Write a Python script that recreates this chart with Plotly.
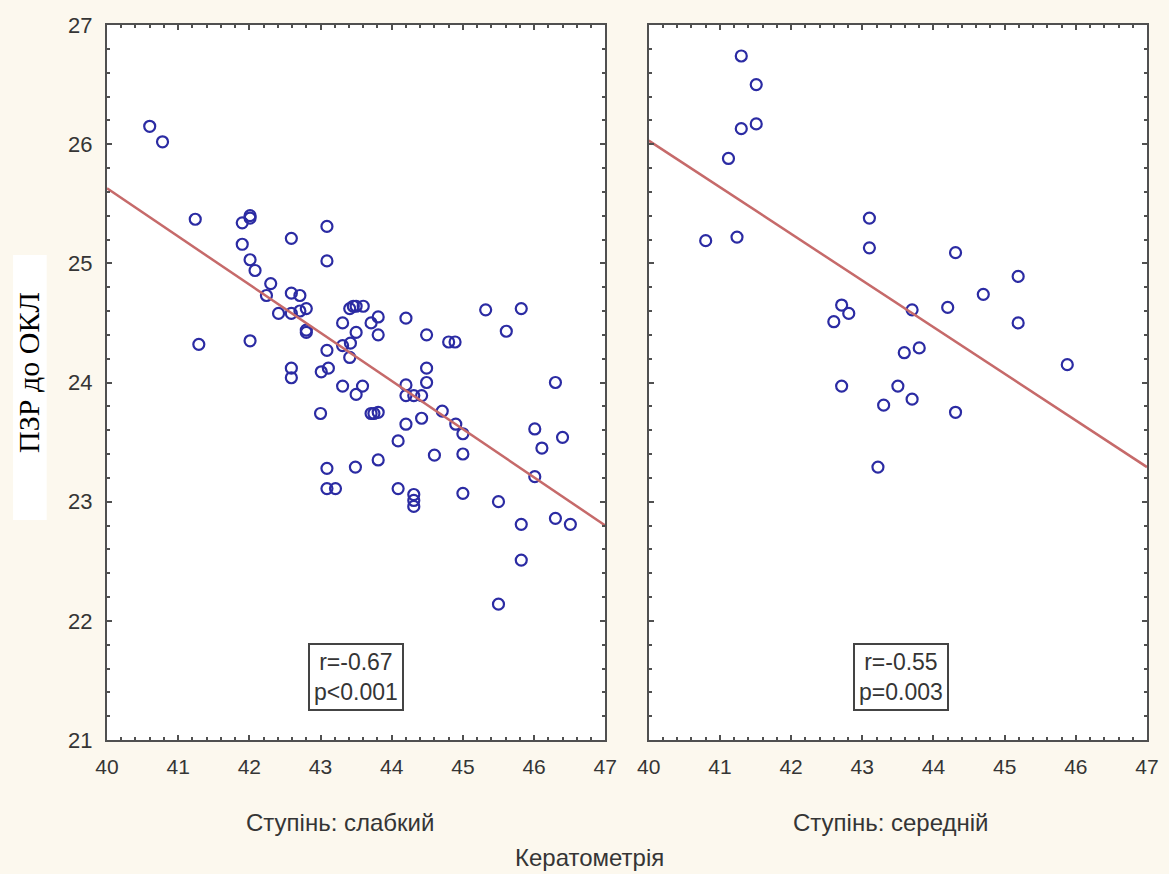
import plotly.graph_objects as go

# ---- data ----
left_x = [40.60, 40.78, 41.24, 41.29, 41.90, 42.01, 42.01, 41.90, 42.01, 42.08,
          42.30, 42.24, 42.01, 42.59, 42.59, 42.71, 42.41, 42.59, 42.71, 42.80,
          42.80, 42.80, 42.59, 42.59, 43.09, 43.09, 43.09, 43.01, 43.11, 43.31,
          43.41, 43.46, 43.50, 43.60, 43.71, 43.81, 43.81, 43.50, 43.31, 43.42,
          43.41, 43.31, 43.59, 43.50, 44.20, 44.49, 44.80, 44.89, 45.32, 45.82,
          45.61, 44.49, 44.49, 44.20, 44.20, 44.31, 44.42, 43.71, 43.75, 43.81,
          44.71, 44.90, 45.00, 44.42, 44.20, 44.09, 44.60, 45.00, 43.81, 43.49,
          43.09, 43.09, 43.21, 44.09, 44.31, 44.31, 44.31, 45.00, 45.50, 46.01,
          46.40, 46.11, 46.01, 46.30, 45.82, 46.30, 46.51, 45.82, 45.50, 43.00]
left_y = [26.15, 26.02, 25.37, 24.32, 25.34, 25.40, 25.38, 25.16, 25.03, 24.94,
          24.83, 24.73, 24.35, 25.21, 24.75, 24.73, 24.58, 24.58, 24.60, 24.62,
          24.44, 24.42, 24.12, 24.04, 25.31, 25.02, 24.27, 24.09, 24.12, 24.50,
          24.62, 24.64, 24.64, 24.64, 24.50, 24.55, 24.40, 24.42, 24.31, 24.33,
          24.21, 23.97, 23.97, 23.90, 24.54, 24.40, 24.34, 24.34, 24.61, 24.62,
          24.43, 24.12, 24.00, 23.98, 23.89, 23.89, 23.89, 23.74, 23.74, 23.75,
          23.76, 23.65, 23.57, 23.70, 23.65, 23.51, 23.39, 23.40, 23.35, 23.29,
          23.28, 23.11, 23.11, 23.11, 23.06, 23.01, 22.96, 23.07, 23.00, 23.61,
          23.54, 23.45, 23.21, 24.00, 22.81, 22.86, 22.81, 22.51, 22.14, 23.74]

right_x = [41.30, 41.51, 41.30, 41.51, 41.12, 40.80, 41.24, 43.10, 43.10, 44.31,
           44.70, 44.20, 43.70, 42.71, 42.81, 42.60, 43.80, 43.59, 42.71, 43.50,
           43.70, 43.30, 44.31, 45.19, 45.19, 45.88, 43.22]
right_y = [26.74, 26.50, 26.13, 26.17, 25.88, 25.19, 25.22, 25.38, 25.13, 25.09,
           24.74, 24.63, 24.61, 24.65, 24.58, 24.51, 24.29, 24.25, 23.97, 23.97,
           23.86, 23.81, 23.75, 24.89, 24.50, 24.15, 23.29]

fit_x = [40, 47]
left_fit_y = [25.63, 22.80]
right_fit_y = [26.03, 23.29]

x_ticks = [40, 41, 42, 43, 44, 45, 46, 47]
y_ticks = [21, 22, 23, 24, 25, 26, 27]

left_stats = "r=-0.67<br>p<0.001"
right_stats = "r=-0.55<br>p=0.003"
left_label = "Ступінь: слабкий"
right_label = "Ступінь: середній"
x_title = "Кератометрія"
y_title = "ПЗР до ОКЛ"

# ---- styles ----
pt_color = "#2b2ba3"
line_color = "#c66a6a"
axis_color = "#505050"
text_color = "#353535"
bg = "#fcf8ee"
sans = "Liberation Sans, Arial, sans-serif"

fig = go.Figure()
marker = dict(symbol="circle-open", size=11, color=pt_color, line=dict(width=2.2, color=pt_color))
fig.add_trace(go.Scatter(x=left_x, y=left_y, mode="markers", marker=marker,
                         xaxis="x", yaxis="y", showlegend=False))
fig.add_trace(go.Scatter(x=fit_x, y=left_fit_y, mode="lines",
                         line=dict(color=line_color, width=2.5),
                         xaxis="x", yaxis="y", showlegend=False))
fig.add_trace(go.Scatter(x=right_x, y=right_y, mode="markers", marker=marker,
                         xaxis="x2", yaxis="y2", showlegend=False))
fig.add_trace(go.Scatter(x=fit_x, y=right_fit_y, mode="lines",
                         line=dict(color=line_color, width=2.5),
                         xaxis="x2", yaxis="y2", showlegend=False))

W, H = 1169, 874
ml, mr, mt, mb = 107, 10, 25, 134
pw = W - ml - mr
ph = H - mt - mb
d1 = [0, (611 - ml) / pw]
d2 = [(655 - ml) / pw, 1]

def px(x):
    return (x - ml) / pw

def py(y):
    return 1 - (y - mt) / ph

def xaxis(domain, anchor):
    return dict(domain=domain, anchor=anchor, range=[40, 47], tickvals=x_ticks,
                ticks="inside", ticklen=5, tickwidth=1.5, tickcolor=axis_color,
                minor=dict(ticks="inside", dtick=0.2, ticklen=3, tickcolor=axis_color),
                showline=True, linecolor=axis_color, linewidth=2, mirror="ticks",
                showgrid=False, zeroline=False, ticklabelstandoff=7,
                tickfont=dict(family=sans, size=21, color=text_color), fixedrange=True)

def yaxis(anchor, show_labels):
    return dict(domain=[0, 1], anchor=anchor, range=[21, 27], tickvals=y_ticks,
                ticks="inside", ticklen=5, tickwidth=1.5, tickcolor=axis_color,
                minor=dict(ticks="inside", dtick=0.2, ticklen=3, tickcolor=axis_color),
                showline=True, linecolor=axis_color, linewidth=2, mirror="ticks",
                showgrid=False, zeroline=False, showticklabels=show_labels,
                ticklabelstandoff=8,
                tickfont=dict(family=sans, size=22, color=text_color),
                fixedrange=True)

fig.update_layout(
    width=W, height=H,
    margin=dict(l=ml, r=mr, t=mt, b=mb),
    paper_bgcolor=bg, plot_bgcolor="white",
    xaxis=xaxis(d1, "y"), yaxis=yaxis("x", True),
    xaxis2=xaxis(d2, "y2"), yaxis2=yaxis("x2", False),
    shapes=[dict(type="rect", xref="paper", yref="paper",
                 x0=px(12), x1=px(46), y0=py(520), y1=py(255),
                 fillcolor="white", line=dict(width=0), layer="below")],
    annotations=[
        dict(text=left_stats, x=43.5, y=21.53, xref="x", yref="y", showarrow=False,
             font=dict(family=sans, size=23, color=text_color),
             bordercolor="#444444", borderwidth=2, borderpad=4, bgcolor="white", align="center"),
        dict(text=right_stats, x=43.54, y=21.53, xref="x2", yref="y2", showarrow=False,
             font=dict(family=sans, size=23, color=text_color),
             bordercolor="#444444", borderwidth=2, borderpad=4, bgcolor="white", align="center"),
        dict(text=left_label, x=px(343), y=py(822), xanchor="center", yanchor="middle",
             xref="paper", yref="paper", showarrow=False,
             font=dict(family=sans, size=24, color=text_color)),
        dict(text=right_label, x=px(900), y=py(822), xanchor="center", yanchor="middle",
             xref="paper", yref="paper", showarrow=False,
             font=dict(family=sans, size=24, color=text_color)),
        dict(text=x_title, x=px(595), y=py(858), xanchor="center", yanchor="middle",
             xref="paper", yref="paper", showarrow=False,
             font=dict(family=sans, size=24, color=text_color)),
        dict(text=y_title, x=px(28), y=py(372), xanchor="center", yanchor="middle",
             xref="paper", yref="paper", showarrow=False, textangle=-90,
             font=dict(family="Liberation Serif, Times New Roman, serif", size=30, color="black")),
    ],
)

fig.write_html("out.html")
